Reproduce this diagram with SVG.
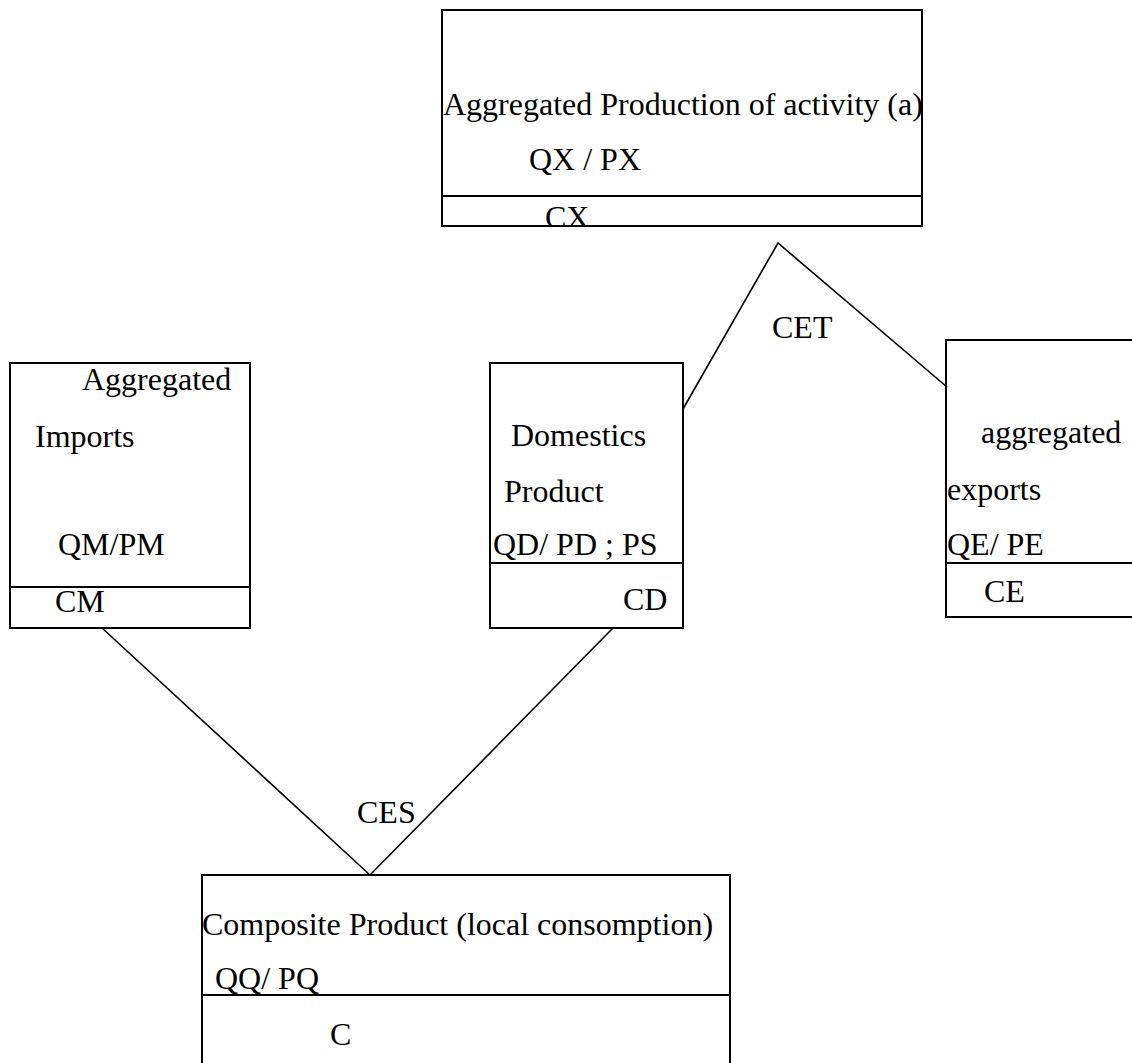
<svg xmlns="http://www.w3.org/2000/svg" width="1132" height="1063" viewBox="0 0 1132 1063">
<style>
.box{fill:none;stroke:#000;stroke-width:2}
.div{stroke:#000;stroke-width:2}
.conn{fill:none;stroke:#000;stroke-width:1.6}
text{font-family:"Liberation Serif","Times New Roman",serif;font-size:32px;fill:#000}
</style>
<defs>
<clipPath id="cxclip"><rect x="442" y="196" width="480" height="30"/></clipPath>
</defs>
<rect width="1132" height="1063" fill="#fff"/>
<g id="connectors">
<polyline class="conn" points="683,409 778,243 947,387"/>
<polyline class="conn" points="102,628 370,875 613,628"/>
<text x="772" y="338">CET</text>
<text x="357" y="823">CES</text>
</g>
<g id="node-production">
<rect class="box" x="442" y="10" width="480" height="216"/>
<line class="div" x1="442" y1="196" x2="922" y2="196"/>
<text x="443" y="115">Aggregated Production of activity (a)</text>
<text x="529" y="170">QX / PX</text>
<text x="545" y="228" clip-path="url(#cxclip)">CX</text>
</g>
<g id="node-imports">
<rect class="box" x="10" y="363" width="240" height="265"/>
<line class="div" x1="10" y1="587" x2="250" y2="587"/>
<text x="82" y="390">Aggregated</text>
<text x="35" y="447">Imports</text>
<text x="58" y="555">QM/PM</text>
<text x="55" y="612">CM</text>
</g>
<g id="node-domestic">
<rect class="box" x="490" y="363" width="193" height="265"/>
<line class="div" x1="490" y1="563" x2="683" y2="563"/>
<text x="511" y="446">Domestics</text>
<text x="504" y="502">Product</text>
<text x="493" y="555">QD/ PD ; PS</text>
<text x="623" y="610">CD</text>
</g>
<g id="node-exports">
<rect class="box" x="946" y="340" width="200" height="277"/>
<line class="div" x1="946" y1="563" x2="1140" y2="563"/>
<text x="981" y="443">aggregated</text>
<text x="947" y="500">exports</text>
<text x="947" y="555">QE/ PE</text>
<text x="984" y="602">CE</text>
</g>
<g id="node-composite">
<rect class="box" x="202" y="875" width="528" height="200"/>
<line class="div" x1="202" y1="995" x2="730" y2="995"/>
<text x="202" y="935">Composite Product (local consomption)</text>
<text x="215" y="989">QQ/ PQ</text>
<text x="330" y="1045">C</text>
</g>
</svg>
